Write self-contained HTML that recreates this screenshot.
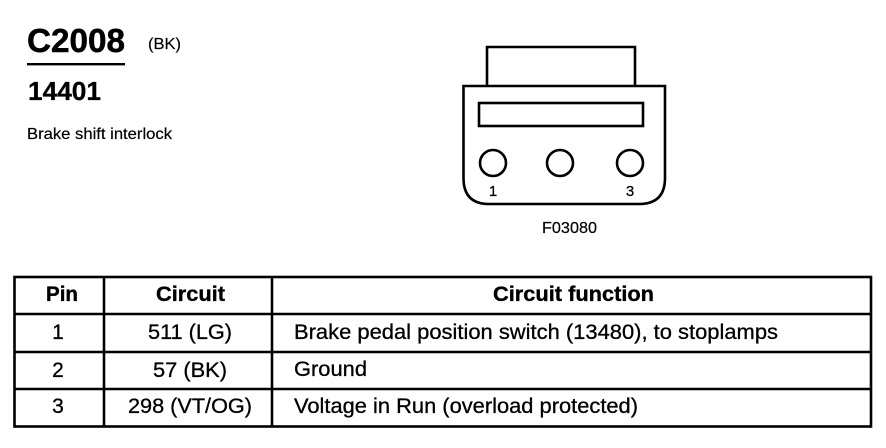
<!DOCTYPE html>
<html>
<head>
<meta charset="utf-8">
<style>
html,body{margin:0;padding:0;background:#fff}
svg{display:block}
text{font-family:"Liberation Sans",Arial,sans-serif;fill:#000}
.b{font-weight:bold}
.t{font-size:21px;stroke:#000;stroke-width:.3px}
.h{font-size:21px;font-weight:bold;stroke:#000;stroke-width:.35px}
</style>
</head>
<body>
<svg width="886" height="448" viewBox="0 0 886 448" xmlns="http://www.w3.org/2000/svg">
<rect width="886" height="448" fill="#fff"/>
<text x="27" y="52" class="b" font-size="33" textLength="98" lengthAdjust="spacingAndGlyphs" stroke="#000" stroke-width=".5">C2008</text>
<rect x="27" y="63" width="98" height="2.400" fill="#000"/>
<text x="148" y="49" font-size="15.500" textLength="33" lengthAdjust="spacingAndGlyphs" stroke="#000" stroke-width=".15">(BK)</text>
<text x="28" y="100" class="b" font-size="26" textLength="73" lengthAdjust="spacingAndGlyphs" stroke="#000" stroke-width=".3">14401</text>
<text x="27" y="139" font-size="16" textLength="145" lengthAdjust="spacingAndGlyphs" stroke="#000" stroke-width=".2">Brake shift interlock</text>

<g fill="none" stroke="#000" stroke-width="2.600">
<path d="M487 86V47H635V86"/>
<path d="M463.500 86H665V178Q665 204 639 204H489Q463.500 204 463.500 178Z"/>
<rect x="479" y="103" width="164" height="23"/>
<circle cx="493" cy="163" r="13"/>
<circle cx="560" cy="163" r="13"/>
<circle cx="630" cy="163" r="13"/>
</g>
<text x="493" y="196" text-anchor="middle" font-size="15" stroke="#000" stroke-width=".25">1</text>
<text x="630" y="196" text-anchor="middle" font-size="15" stroke="#000" stroke-width=".25">3</text>
<text x="542" y="233" font-size="15.500" textLength="55" lengthAdjust="spacingAndGlyphs" stroke="#000" stroke-width=".2">F03080</text>

<g fill="none" stroke="#000" stroke-width="2.600">
<rect x="14.500" y="277" width="856.500" height="149.500"/>
<path d="M14 314H871M14 352H871M14 389H871M104 277V426M272 277V426"/>
</g>

<text x="46" y="301" class="h" textLength="32" lengthAdjust="spacingAndGlyphs">Pin</text>
<text x="156" y="301" class="h" textLength="69" lengthAdjust="spacingAndGlyphs">Circuit</text>
<text x="493" y="301" class="h" textLength="161" lengthAdjust="spacingAndGlyphs">Circuit function</text>

<text x="58" y="339" text-anchor="middle" class="t">1</text>
<text x="148" y="339" class="t" textLength="84" lengthAdjust="spacingAndGlyphs">511 (LG)</text>
<text x="294" y="339" class="t" textLength="484" lengthAdjust="spacingAndGlyphs">Brake pedal position switch (13480), to stoplamps</text>

<text x="58" y="377" text-anchor="middle" class="t">2</text>
<text x="153" y="377" class="t" textLength="74" lengthAdjust="spacingAndGlyphs">57 (BK)</text>
<text x="294" y="376" class="t" textLength="73" lengthAdjust="spacingAndGlyphs">Ground</text>

<text x="58" y="413" text-anchor="middle" class="t">3</text>
<text x="128" y="413" class="t" textLength="124" lengthAdjust="spacingAndGlyphs">298 (VT/OG)</text>
<text x="294" y="413" class="t" textLength="344" lengthAdjust="spacingAndGlyphs">Voltage in Run (overload protected)</text>
</svg>
</body>
</html>
